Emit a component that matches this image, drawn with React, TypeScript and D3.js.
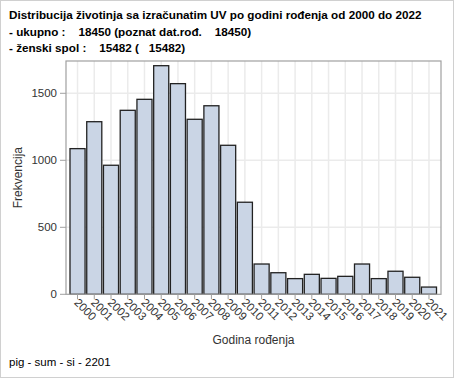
import React from "react";
import * as d3 from "d3";

const years = ["2000","2001","2002","2003","2004","2005","2006","2007","2008","2009","2010","2011","2012","2013","2014","2015","2016","2017","2018","2019","2020","2021"];
const counts = [1087,1288,963,1373,1455,1706,1572,1306,1407,1112,687,226,161,117,149,119,134,226,117,172,127,54];
const yTicks = [0,500,1000,1500];
const titleLines = [
  "Distribucija životinja sa izračunatim UV po godini rođenja od 2000 do 2022",
  "- ukupno :    18450 (poznat dat.rođ.    18450)",
  "- ženski spol :    15482 (   15482)",
];
const footer = "pig - sum - si - 2201";

const W = 454, H = 378;
const plot = { left: 66, right: 441, top: 61, bottom: 294.3 };

export default function App() {
  const x = d3.scaleBand<string>().domain(years).range([70, 436.5]).paddingInner(0.1);
  const y = d3.scaleLinear().domain([0, 1741]).range([plot.bottom, plot.top]);
  const font = "'Liberation Sans', Arial, sans-serif";
  return (
    <svg width={W} height={H} style={{ position: "absolute", left: 0, top: 0 }} fontFamily={font}>
      <rect x={0.5} y={0.5} width={W - 1} height={H - 1} fill="#fff" stroke="#d0d0d0" />
      {titleLines.map((t, i) => (
        <text key={i} x={9} y={19 + i * 16.5} fontSize={11.7} fontWeight="bold" fill="#000" style={{ whiteSpace: "pre" }}>{t}</text>
      ))}
      {years.map((yr) => (
        <line key={"gx" + yr} x1={x(yr)! + x.bandwidth() / 2} x2={x(yr)! + x.bandwidth() / 2} y1={plot.top} y2={plot.bottom} stroke="#ebebeb" strokeWidth={1.5} />
      ))}
      {yTicks.filter(t => t > 0).map((t) => (
        <line key={"gy" + t} x1={plot.left} x2={plot.right} y1={y(t)} y2={y(t)} stroke="#ebebeb" strokeWidth={1.5} />
      ))}
      {years.map((yr, i) => (
        <rect key={"b" + yr} x={x(yr)!} y={y(counts[i])} width={x.bandwidth()} height={plot.bottom - y(counts[i])} fill="#cad5e5" stroke="#222" strokeWidth={1.3} />
      ))}
      <rect x={plot.left} y={plot.top} width={plot.right - plot.left} height={plot.bottom - plot.top} fill="none" stroke="#a0a0a0" strokeWidth={1.2} />
      {yTicks.map((t) => (
        <g key={"yt" + t}>
          <line x1={plot.left - 6} x2={plot.left} y1={y(t)} y2={y(t)} stroke="#a0a0a0" />
          <text x={plot.left - 9} y={y(t) + 4} textAnchor="end" fontSize={11.5} fill="#333">{t}</text>
        </g>
      ))}
      {years.map((yr) => {
        const cx = x(yr)! + x.bandwidth() / 2;
        return (
          <g key={"xt" + yr}>
            <line x1={cx} x2={cx} y1={plot.bottom} y2={plot.bottom + 5} stroke="#a0a0a0" />
            <text transform={`translate(${cx - 4},${plot.bottom + 9}) rotate(45)`} fontSize={11.5} fill="#333">{yr}</text>
          </g>
        );
      })}
      <text transform={`translate(22,${(plot.top + plot.bottom) / 2}) rotate(-90)`} textAnchor="middle" fontSize={12} fill="#333">Frekvencija</text>
      <text x={(plot.left + plot.right) / 2} y={344} textAnchor="middle" fontSize={12} fill="#333">Godina rođenja</text>
      <text x={9} y={366} fontSize={11.5} fill="#000">{footer}</text>
    </svg>
  );
}
